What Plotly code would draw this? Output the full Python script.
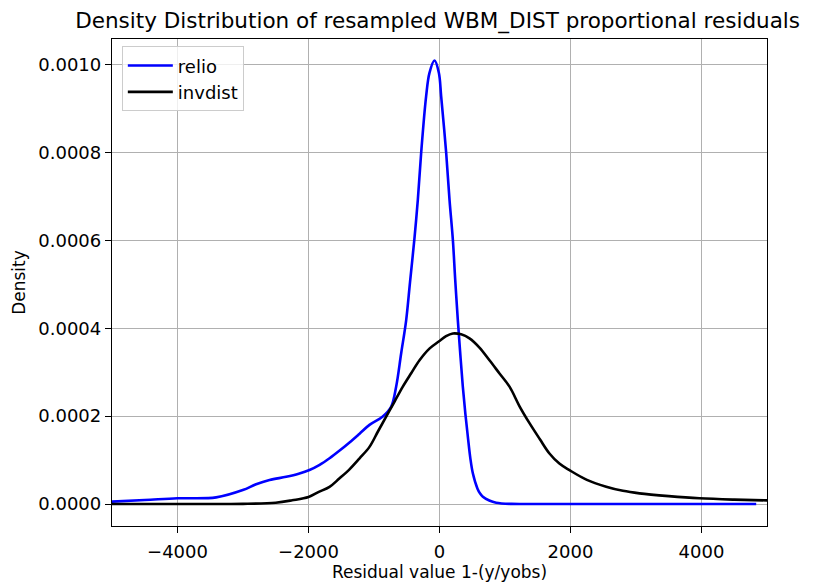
import plotly.graph_objects as go

# relio density curve
relio_x = [-5200, -4500, -4000, -3410, -3003, -2800, -2595, -2341, -2150, -1985, -1830, -1679, -1530, -1374,
           -1220, -1069, -866, -739, -662, -585, -509, -450, -382, -331, -280, -204, -153, -76,
           -10, 25, 102, 153, 204, 240, 280, 318, 356, 395, 433, 470, 509, 580, 620, 662, 760, 865, 1100, 1500, 3000, 4835]
relio_y = [4e-6, 9e-6, 13e-6, 15.2e-6, 31.8e-6, 45e-6, 54.6e-6, 62e-6, 69e-6, 77.3e-6, 89e-6, 104e-6, 121e-6, 140e-6,
           160e-6, 180e-6, 199e-6, 221e-6, 267e-6, 343e-6, 418e-6, 505e-6, 605e-6, 692e-6, 799e-6, 928e-6, 981e-6, 1009e-6,
           981e-6, 928e-6, 799e-6, 692e-6, 601e-6, 510e-6, 418e-6, 340e-6, 267e-6, 205e-6, 153e-6, 105e-6, 70e-6, 35e-6, 24e-6, 16.6e-6, 8e-6, 3e-6, 0.3e-6, 0, 0, 0]

# invdist density curve
invdist_x = [-5200, -4000, -3000, -2500, -2250, -2000, -1850, -1679, -1530, -1374, -1220, -1069, -940, -814, -690, -560, -430, -305,
             -150, 0, 100, 204, 330, 458, 610, 763, 916, 1069, 1220, 1374, 1530, 1679, 1830, 1985, 2250, 2545, 2800, 3053, 3500, 3969, 4500, 5200]
invdist_y = [0, 0, 0.3e-6, 3e-6, 8.5e-6, 16e-6, 27e-6, 39e-6, 58e-6, 79e-6, 104e-6, 130e-6, 165e-6, 199e-6, 232e-6, 267e-6, 298e-6, 327e-6,
             354e-6, 371e-6, 382e-6, 388e-6, 386e-6, 377e-6, 356e-6, 327e-6, 297e-6, 267e-6, 223e-6, 184e-6, 148e-6, 115e-6, 92e-6, 77e-6, 55e-6, 39.5e-6, 30e-6, 24.3e-6, 18e-6, 13e-6, 10e-6, 7.5e-6]

x_ticks = [-4000, -2000, 0, 2000, 4000]
y_ticks = [0.0, 0.0002, 0.0004, 0.0006, 0.0008, 0.0010]

FONT = "DejaVu Sans"

fig = go.Figure()
fig.add_trace(go.Scatter(x=relio_x, y=relio_y, mode="lines", name="relio",
                         line=dict(color="#0000ff", width=2.6, shape="spline", smoothing=1.0)))
fig.add_trace(go.Scatter(x=invdist_x, y=invdist_y, mode="lines", name="invdist",
                         line=dict(color="#000000", width=2.6, shape="spline", smoothing=1.0)))

axis_common = dict(showline=True, linecolor="black", linewidth=1.3, mirror=True,
                   ticks="outside", ticklen=6, tickwidth=1.3, tickcolor="black",
                   showgrid=True, gridcolor="#b0b0b0", gridwidth=1.2, zeroline=False,
                   automargin=False,
                   tickfont=dict(family=FONT, size=18, color="black"))

fig.update_xaxes(range=[-5000, 5000], tickvals=x_ticks, ticklabelstandoff=3,
                 title=dict(text="Residual value 1-(y/yobs)", font=dict(family=FONT, size=17, color="black"), standoff=5),
                 **axis_common)
fig.update_yaxes(range=[-0.00005, 0.001058], tickvals=y_ticks, tickformat=".4f",
                 title=dict(text="Density", font=dict(family=FONT, size=17, color="black"), standoff=8),
                 **axis_common)

fig.update_layout(
    width=806, height=575,
    margin=dict(l=104, r=47, t=31, b=57),
    paper_bgcolor="white", plot_bgcolor="white",
    title=dict(text="Density Distribution of resampled WBM_DIST proportional residuals",
               font=dict(family=FONT, size=21.5, color="black"),
               x=0.533, xanchor="center", y=0.979, yanchor="middle"),
    legend=dict(x=0.015, y=0.985, xanchor="left", yanchor="top", itemwidth=45,
                bgcolor="rgba(255,255,255,0.8)", bordercolor="#cccccc", borderwidth=1,
                font=dict(family=FONT, size=18, color="black")),
    showlegend=True,
)

fig.write_html("out.html")
